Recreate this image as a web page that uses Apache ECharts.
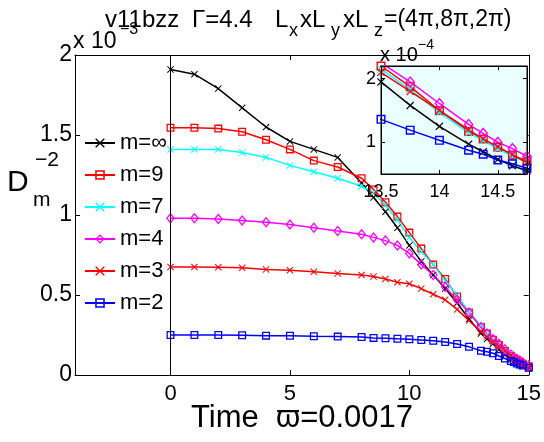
<!DOCTYPE html>
<html><head><meta charset="utf-8">
<script src="https://cdn.jsdelivr.net/npm/echarts@6/dist/echarts.min.js"></script>
<style>html,body{margin:0;padding:0;background:#fff}#c{width:544px;height:442px}</style>
</head><body><div id="c"></div>
<script>
// time axis (same sampling for all curves)
const time = [0,1,2,3,4,5,6,7,8,8.5,9,9.5,10,10.5,11,11.5,12,12.5,13,13.25,13.5,13.75,14,14.25,14.375,14.5,14.625,14.75,15];
// D_m^-2 values in units of 1e-3
const mInf = [1.91,1.88,1.79,1.67,1.55,1.46,1.41,1.36,1.20,1.11,1.02,0.92,0.81,0.71,0.625,0.54,0.45,0.35,0.26,0.225,0.195,0.158,0.125,0.097,0.085,0.073,0.063,0.055,0.042];
const m9 = [1.545,1.545,1.54,1.52,1.47,1.41,1.34,1.30,1.23,1.16,1.08,0.99,0.89,0.79,0.69,0.60,0.49,0.39,0.30,0.26,0.22,0.1875,0.15,0.117,0.105,0.092,0.08,0.07,0.055];
const m7 = [1.41,1.41,1.41,1.39,1.36,1.31,1.27,1.23,1.18,1.14,1.06,0.97,0.86,0.77,0.69,0.59,0.50,0.39,0.31,0.255,0.215,0.183,0.147,0.115,0.103,0.09,0.078,0.068,0.05];
const m4 = [0.98,0.98,0.975,0.965,0.955,0.94,0.92,0.90,0.88,0.86,0.84,0.81,0.76,0.69,0.625,0.55,0.47,0.39,0.30,0.26,0.225,0.195,0.161,0.128,0.114,0.10,0.09,0.078,0.06];
const m3 = [0.675,0.675,0.673,0.67,0.66,0.655,0.645,0.635,0.625,0.615,0.60,0.58,0.57,0.54,0.505,0.47,0.41,0.34,0.27,0.24,0.21,0.18,0.15,0.12,0.105,0.093,0.08,0.068,0.05];
const m2 = [0.25,0.25,0.25,0.249,0.246,0.245,0.242,0.24,0.238,0.232,0.23,0.226,0.223,0.219,0.214,0.206,0.194,0.176,0.152,0.145,0.136,0.119,0.103,0.0875,0.081,0.072,0.066,0.059,0.045];
const seriesNames = ['m=\u221e','m=9','m=7','m=4','m=3','m=2'];
const mainXTicks = [0,5,10,15];
const insetYTicks = [1,2];

const FONT = 'Liberation Sans, Arial, Helvetica, sans-serif';
const XS = 'path://M0,1L1,0L5,4L9,0L10,1L6,5L10,9L9,10L5,6L1,10L0,9L4,5Z';
const SQ = 'path://M0,0H10V10H0ZM1.6,1.6V8.4H8.4V1.6Z';
const DM = 'path://M5,0L10,5L5,10L0,5ZM5,1.8L1.8,5L5,8.2L8.2,5Z';

const defs = [
  {name: seriesNames[0], vals: mInf, color:'#000000', symbol: XS, size: 7},
  {name: seriesNames[1], vals: m9, color:'#ff0000', symbol: SQ, size: 8},
  {name: seriesNames[2], vals: m7, color:'#00ffff', symbol: XS, size: 7},
  {name: seriesNames[3], vals: m4, color:'#ff00ff', symbol: DM, size: [9,11]},
  {name: seriesNames[4], vals: m3, color:'#ff0000', symbol: XS, size: 7},
  {name: seriesNames[5], vals: m2, color:'#0000ff', symbol: SQ, size: 8}
];

const series = [];
defs.forEach((d, k) => {
  const s = {
    name: d.name, type:'line', xAxisIndex:0, yAxisIndex:0,
    data: time.map((t,i)=>[t, d.vals[i]]),
    symbol: d.symbol, symbolSize: d.size, showSymbol: true,
    lineStyle:{color:d.color, width:1.5},
    itemStyle:{color:d.color},
    z: 2
  };
  if (k === 0) {
    s.markLine = {silent:true, symbol:['none','none'], label:{show:false},
      lineStyle:{color:'#000', width:1, type:'solid'}, data:[{xAxis:0}]};
  }
  series.push(s);
});
defs.forEach((d) => {
  series.push({
    name: d.name, type:'line', xAxisIndex:2, yAxisIndex:2,
    data: time.map((t,i)=>[t, d.vals[i]*10]),
    symbol: d.symbol, symbolSize: Array.isArray(d.size) ? [d.size[0]+1,d.size[1]+1] : d.size+1,
    lineStyle:{color:d.color, width:1.5},
    itemStyle:{color:d.color},
    z: 11
  });
});

const blk = {color:'#000', width:1};
function axisBase(extra){
  return Object.assign({type:'value', splitLine:{show:false},
    axisLine:{show:true, lineStyle:blk, onZero:false},
    axisTick:{show:true, inside:true, length:5, lineStyle:blk},
    axisLabel:{color:'#000', fontFamily:FONT}}, extra);
}
function txt(x, y, text, size, z){
  return {type:'text', x:x, y:y, z: z||5,
    style:{text:text, font:size+'px '+FONT, fill:'#000', align:'left', verticalAlign:'middle'}};
}

const option = {
  animation:false,
  backgroundColor:'#fff',
  grid:[
    {left:75, top:55, width:454, height:320, show:false},
    {left:381, top:66, width:146, height:108, show:true, backgroundColor:'#eaffff', borderColor:'#000', borderWidth:1, z:10}
  ],
  xAxis:[
    axisBase({gridIndex:0, position:'bottom', min:-4, max:15,
      axisTick:{show:true, inside:true, length:5, lineStyle:blk, customValues: mainXTicks},
      axisLabel:{color:'#000', fontFamily:FONT, fontSize:22, margin:8, customValues: mainXTicks}}),
    axisBase({gridIndex:0, position:'top', min:-4, max:15,
      axisTick:{show:true, inside:true, length:5, lineStyle:blk, customValues: mainXTicks},
      axisLabel:{show:false}}),
    axisBase({gridIndex:1, position:'bottom', min:13.5, max:14.75, interval:0.5, z:12,
      axisTick:{show:true, inside:true, length:4, lineStyle:blk},
      axisLabel:{color:'#000', fontFamily:FONT, fontSize:18, margin:9, showMinLabel:true}}),
    axisBase({gridIndex:1, position:'top', min:13.5, max:14.75, interval:0.5, z:12,
      axisTick:{show:true, inside:true, length:4, lineStyle:blk},
      axisLabel:{show:false}})
  ],
  yAxis:[
    axisBase({gridIndex:0, position:'left', min:0, max:2, interval:0.5,
      axisLabel:{color:'#000', fontFamily:FONT, fontSize:23, margin:3, formatter:v=>String(v)}}),
    axisBase({gridIndex:0, position:'right', min:0, max:2, interval:0.5,
      axisLabel:{show:false}}),
    axisBase({gridIndex:1, position:'left', min:0.5, max:2.2, z:12,
      axisTick:{show:true, inside:true, length:4, lineStyle:blk, customValues: insetYTicks},
      axisLabel:{color:'#000', fontFamily:FONT, fontSize:18, margin:5, customValues: insetYTicks}}),
    axisBase({gridIndex:1, position:'right', min:0.5, max:2.2, z:12,
      axisTick:{show:true, inside:true, length:4, lineStyle:blk, customValues: insetYTicks},
      axisLabel:{show:false}})
  ],
  legend:{
    orient:'vertical', left:79, top:127, itemWidth:30, itemHeight:12, itemGap:10,
    selectedMode:false, data: seriesNames,
    textStyle:{fontSize:22, color:'#000', fontFamily:FONT}
  },
  graphic:[
    // title pieces
    txt(105, 20, 'v11bzz', 24),
    txt(192, 20, '\u0393=4.4', 24),
    txt(275, 20, 'L', 24),
    txt(289, 31, 'x', 18),
    txt(300, 20, 'xL', 24),
    txt(331, 31, 'y', 18),
    txt(343, 20, 'xL', 24),
    txt(374, 31, 'z', 18),
    txt(384, 20, '=(4\u03c0,8\u03c0,2\u03c0)', 23),
    // exponent of main axis
    txt(73, 42, 'x 10', 23),
    txt(120, 30, '\u22123', 16),
    // exponent of inset axis
    txt(380, 55, 'x 10', 20, 20),
    txt(418, 45, '\u22124', 14, 20),
    // y axis label
    txt(7, 183, 'D', 30),
    txt(35, 160, '\u22122', 21),
    txt(33, 200, 'm', 21),
    // x axis label
    txt(191, 418, 'Time  \u03d6=0.0017', 31)
  ],
  series: series
};
const chart = echarts.init(document.getElementById('c'), null, {renderer:'canvas'});
chart.setOption(option);
</script>
</body></html>
